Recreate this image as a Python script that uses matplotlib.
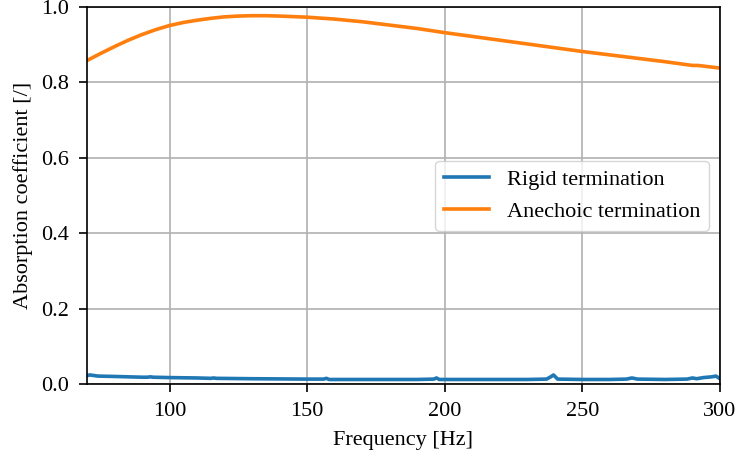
import matplotlib
matplotlib.use("Agg")
import matplotlib.pyplot as plt

plt.rcParams['font.family'] = ['Liberation Serif', 'DejaVu Serif']
plt.rcParams['mathtext.fontset'] = 'stix'

freq_anechoic = [70, 75, 80, 85, 90, 95, 100, 105, 110, 115, 120, 125, 130, 135, 140,
                 150, 160, 170, 180, 190, 200, 210, 220, 230, 240, 250, 260, 270, 280,
                 288, 290, 292, 300]
alpha_anechoic = [0.858, 0.877, 0.895, 0.912, 0.927, 0.940, 0.951, 0.959, 0.965, 0.970,
                  0.974, 0.976, 0.977, 0.977, 0.976, 0.973, 0.968, 0.961, 0.952, 0.943,
                  0.932, 0.922, 0.912, 0.902, 0.892, 0.882, 0.873, 0.864, 0.855, 0.847,
                  0.845, 0.845, 0.838]

freq_rigid = [70, 71, 72, 74, 80, 90, 92, 93, 94, 100, 110, 115, 116, 117, 130, 150,
              156, 157, 158, 170, 180, 190, 196, 197, 198, 210, 230, 237, 238.5, 239.5,
              241, 250, 260, 266, 268, 270, 280, 288, 290, 291.5, 294, 297, 298.5, 300]
alpha_rigid = [0.022, 0.024, 0.023, 0.021, 0.020, 0.018, 0.018, 0.019, 0.018, 0.017,
               0.016, 0.015, 0.016, 0.015, 0.014, 0.013, 0.013, 0.015, 0.012, 0.012,
               0.012, 0.012, 0.013, 0.016, 0.012, 0.012, 0.012, 0.013, 0.019, 0.024,
               0.013, 0.012, 0.012, 0.013, 0.016, 0.013, 0.012, 0.013, 0.016, 0.014,
               0.017, 0.019, 0.021, 0.014]

fig = plt.figure(figsize=(7.39, 4.59), dpi=100)
ax = fig.add_subplot(111)
fig.subplots_adjust(left=0.1177, right=0.9743, top=0.9847, bottom=0.1634)

ax.plot(freq_rigid, alpha_rigid, color='#1f77b4', lw=2.6, label='Rigid termination')
ax.plot(freq_anechoic, alpha_anechoic, color='#ff7f0e', lw=2.6, label='Anechoic termination')

ax.set_xlim(70, 300)
ax.set_ylim(0, 1.0)
ax.set_xticks([100, 150, 200, 250, 300])
ax.set_yticks([0.0, 0.2, 0.4, 0.6, 0.8, 1.0])
ax.grid(True, color='#b0b0b0', lw=1.2)
ax.tick_params(labelsize=16, width=1.2, length=6, pad=7)
for s in ax.spines.values():
    s.set_linewidth(1.2)
ax.set_xlabel('Frequency [Hz]', fontsize=16, labelpad=7)
ax.set_ylabel('Absorption coefficient [/]', fontsize=16, labelpad=6)
ax.legend(loc='center right', fontsize=16)

fig.savefig('out.png', dpi=100)
